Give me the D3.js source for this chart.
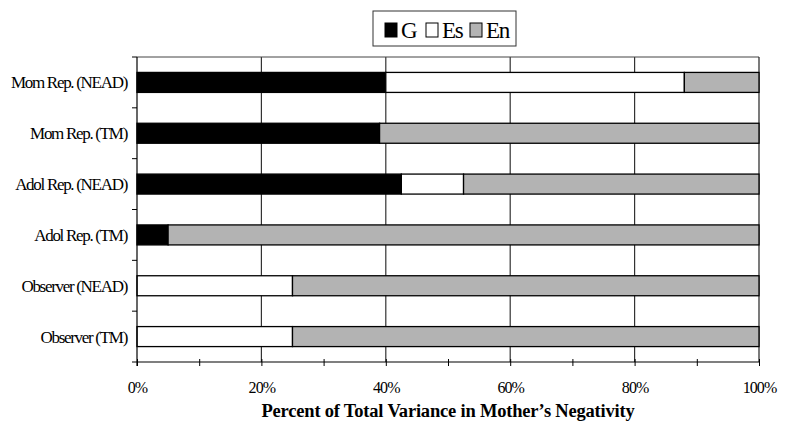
<!DOCTYPE html>
<html>
<head>
<meta charset="utf-8">
<script src="https://cdn.jsdelivr.net/npm/d3@7"></script>
<style>
  html, body { margin: 0; padding: 0; background: #fff; }
  svg { display: block; }
  text { font-family: "Liberation Serif", "Times New Roman", serif; fill: #000; }
</style>
</head>
<body>
<svg id="chart" width="788" height="432"></svg>
<script>
const categories = ["Mom Rep. (NEAD)", "Mom Rep. (TM)", "Adol Rep. (NEAD)", "Adol Rep. (TM)", "Observer (NEAD)", "Observer (TM)"];
const seriesNames = ["G", "Es", "En"];
const valuesG  = [40, 39, 42.5, 5, 0, 0];
const valuesEs = [48, 0, 10, 0, 25, 25];
const valuesEn = [12, 61, 47.5, 95, 75, 75];
const xTicks = [0, 10, 20, 30, 40, 50, 60, 70, 80, 90, 100];
const xLabelTicks = [0, 20, 40, 60, 80, 100];
const gridTicks = [20, 40, 60, 80];
const xTitle = "Percent of Total Variance in Mother\u2019s Negativity";

const colors = { G: "#000000", Es: "#ffffff", En: "#b3b3b3" };

const rows = categories.map((c, i) => ({ cat: c, G: valuesG[i], Es: valuesEs[i], En: valuesEn[i] }));

const svg = d3.select("#chart");
const plotL = 137, plotR = 759, plotT = 57, plotB = 362;

const x = d3.scaleLinear().domain([0, 100]).range([plotL, plotR]);
const y = d3.scaleBand().domain(categories).range([plotT, plotB]).padding(0);
const barH = 20;

// gridlines
svg.append("g").selectAll("line").data(gridTicks).join("line")
  .attr("x1", d => x(d)).attr("x2", d => x(d))
  .attr("y1", plotT).attr("y2", plotB)
  .attr("stroke", "#333").attr("stroke-width", 1.2);

// top & right frame
svg.append("line").attr("x1", plotL).attr("x2", plotR).attr("y1", plotT).attr("y2", plotT)
  .attr("stroke", "#444").attr("stroke-width", 1);
svg.append("line").attr("x1", plotR).attr("x2", plotR).attr("y1", plotT).attr("y2", plotB)
  .attr("stroke", "#222").attr("stroke-width", 1.2);

// stacked bars
const stack = d3.stack().keys(seriesNames)(rows);
svg.append("g").selectAll("g").data(stack).join("g")
  .attr("fill", d => colors[d.key])
  .selectAll("rect").data(d => d.filter(s => s[1] - s[0] > 0)).join("rect")
  .attr("x", d => x(d[0]))
  .attr("width", d => x(d[1]) - x(d[0]))
  .attr("y", d => y(d.data.cat) + (y.bandwidth() - barH) / 2)
  .attr("height", barH)
  .attr("stroke", "#000").attr("stroke-width", 1.3);

// left axis line with boundary ticks
const boundaries = categories.map(c => y(c)).concat([plotB]);
svg.append("line").attr("x1", plotL).attr("x2", plotL).attr("y1", plotT).attr("y2", plotB + 4)
  .attr("stroke", "#000").attr("stroke-width", 1.2);
svg.append("g").selectAll("line").data(boundaries).join("line")
  .attr("x1", plotL - 5).attr("x2", plotL).attr("y1", d => d).attr("y2", d => d)
  .attr("stroke", "#000").attr("stroke-width", 1);

// category labels
svg.append("g").selectAll("text").data(categories).join("text")
  .attr("x", 127)
  .attr("y", d => y(d) + y.bandwidth() / 2)
  .attr("dy", "0.35em")
  .attr("text-anchor", "end")
  .style("font-size", "17px")
  .style("letter-spacing", "-1.3px")
  .text(d => d);

// bottom axis
const xAxis = d3.axisBottom(x).tickValues(xTicks)
  .tickFormat(d => xLabelTicks.includes(d) ? d + "%" : "");
const gx = svg.append("g").attr("transform", `translate(0,${plotB})`).call(xAxis);
gx.select(".domain").attr("stroke", "#000").attr("stroke-width", 1.2).attr("d", `M${plotL},0H${plotR}`);
gx.selectAll(".tick line").attr("y1", -3).attr("y2", 4).attr("stroke", "#000");
gx.selectAll(".tick text")
  .attr("y", 20)
  .style("font-family", "'Liberation Serif', 'Times New Roman', serif")
  .style("font-size", "16px")
  .style("letter-spacing", "-0.9px")
  .attr("fill", "#000");

// axis title
svg.append("text")
  .attr("x", (plotL + plotR) / 2)
  .attr("y", 417)
  .attr("text-anchor", "middle")
  .style("font-size", "18.5px")
  .style("font-weight", "bold")
  .style("letter-spacing", "-0.2px")
  .text(xTitle);

// legend
const lg = svg.append("g");
lg.append("rect").attr("x", 373).attr("y", 11).attr("width", 143).attr("height", 35)
  .attr("fill", "#fff").attr("stroke", "#333").attr("stroke-width", 1);
const legendX = [385, 426, 470];
seriesNames.forEach((k, i) => {
  lg.append("rect").attr("x", legendX[i]).attr("y", 23).attr("width", 12).attr("height", 14)
    .attr("fill", colors[k]).attr("stroke", "#000").attr("stroke-width", 1);
  lg.append("text").attr("x", legendX[i] + 16).attr("y", 38)
    .style("font-size", "23px").style("letter-spacing", "-1.2px")
    .text(k);
});
</script>
</body>
</html>
